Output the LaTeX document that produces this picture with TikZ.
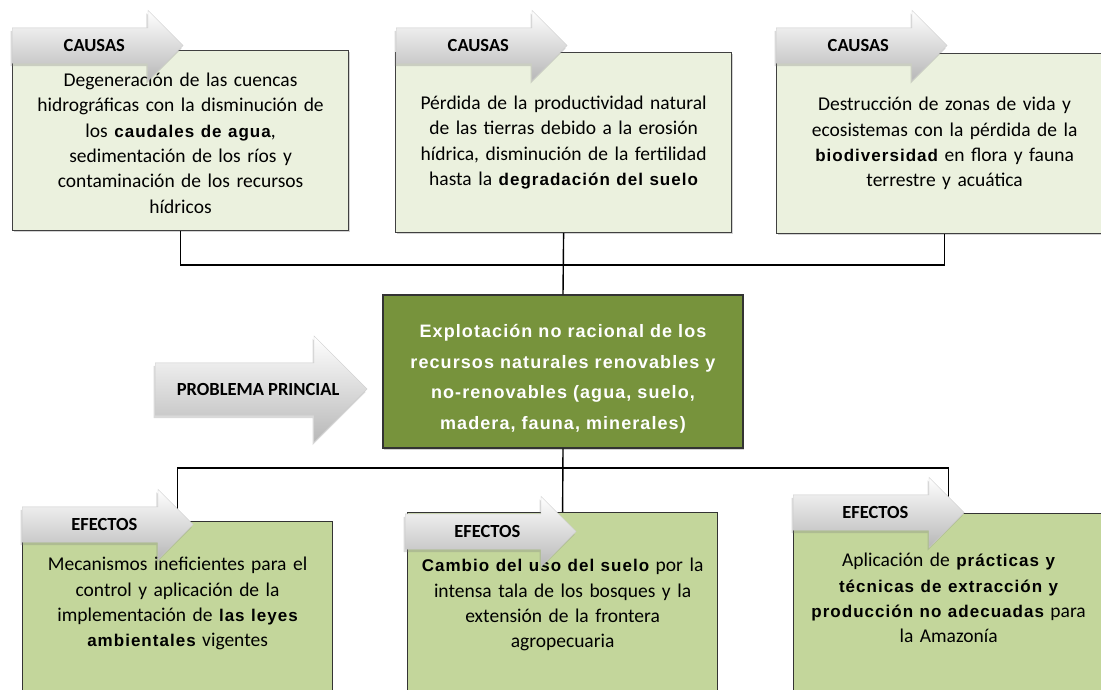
\documentclass[tikz,border=0pt]{standalone}
\usepackage{fontspec}
\setmainfont{Carlito}
\newfontfamily\arialsp[LetterSpace=6]{Liberation Sans}
\usetikzlibrary{shapes.arrows}
\usetikzlibrary{shadows}
\usetikzlibrary{positioning}
\usepackage{xcolor}

\definecolor{causafill}{HTML}{EBF1DE}
\definecolor{efectofill}{HTML}{C3D69B}
\definecolor{problemafill}{HTML}{77933C}

\newcommand{\resalta}[1]{{\fontsize{17}{25}\arialsp\bfseries #1}}

\begin{document}
\begin{tikzpicture}[x=1pt,y=-1pt,
  causa/.style={rectangle,draw=black!75,line width=1.2pt,fill=causafill,anchor=north west,
    minimum width=336pt,minimum height=180pt,inner sep=0pt,text width=334pt,align=center,
    font=\fontsize{19.5}{25.4}\selectfont,
    drop shadow={shadow xshift=1pt,shadow yshift=-1.5pt,opacity=.35}},
  efecto/.style={rectangle,draw=black!80,line width=1.2pt,fill=efectofill,anchor=north west,
    minimum width=310pt,minimum height=220pt},
  efectotxt/.style={inner sep=0pt,text width=308pt,align=center,font=\fontsize{19.5}{25.3}\selectfont},
  problema/.style={rectangle,draw=black!80,line width=1.2pt,fill=problemafill,text=white,
    minimum width=360pt,minimum height=153pt,inner sep=0pt,text width=355pt,align=center,
    font=\fontsize{18}{30.5}\arialsp\bfseries,
    drop shadow={shadow xshift=1pt,shadow yshift=-1.5pt,opacity=.35}},
  flecha/.style={single arrow,single arrow head extend=17.5pt,minimum height=171pt,
    anchor=tail,inner xsep=0pt,inner ysep=0pt,text height=23.5pt,text depth=11.5pt,
    draw=black!20,line width=.4pt,top color=white,bottom color=black!28,
    font=\fontsize{18.5}{20}\selectfont\bfseries,
    drop shadow={shadow xshift=-1.5pt,shadow yshift=-3pt,opacity=.3}},
  conector/.style={draw=black,line width=1.4pt}]
\useasboundingbox (0,0) rectangle (1101,689);
\clip (0,0) rectangle (1101,689);

% causas
\node [causa] (c1) at (12,50) {\rule{0pt}{18.5pt}Degeneración de las cuencas\\ hidrográficas con la disminución de\\ los \resalta{caudales de agua},\\ sedimentación de los ríos y\\ contaminación de los recursos\\ hídricos};
\node [causa] (c2) at (395,52) {Pérdida de la productividad natural\\ de las tierras debido a la erosión\\ hídrica, disminución de la fertilidad\\ hasta la \resalta{degradación del suelo}};
\node [causa] (c3) at (776,53) {Destrucción de zonas de vida y\\ ecosistemas con la pérdida de la\\ \resalta{biodiversidad} en flora y fauna\\ terrestre y acuática};

% problema principal
\node [problema] (main) at (563,371.5) {\rule{0pt}{28pt}Explotación no racional de los\\ recursos naturales renovables y\\ no-renovables (agua, suelo,\\ madera, fauna, minerales)};

% efectos
\node [efecto] (e1) at (22,521) {};
\node [efecto] (e2) at (407,512) {};
\node [efecto] (e3) at (793,513) {};
\node [efectotxt,below=36pt,at=(e1.north)] (t1) {Mecanismos ineficientes para el\\ control y aplicación de la\\ implementación de \resalta{las leyes}\\ \resalta{ambientales} vigentes};
\node [efectotxt,below=46pt,at=(e2.north)] (t2) {\resalta{Cambio del uso del suelo} por la\\ intensa tala de los bosques y la\\ extensión de la frontera\\ agropecuaria};
\node [efectotxt,below=40pt,at=(e3.north)] (t3) {Aplicación de \resalta{prácticas y}\\ \resalta{técnicas de extracción y}\\ \resalta{producción no adecuadas} para\\ la Amazonía};

% conectores
\coordinate (tj) at (563,265);
\coordinate (bj) at (563,468);
\draw [conector] (c1.south) |- (tj) -| (c3.south);
\draw [conector] (c2.south) -- (main.north);
\draw [conector] (e1.north) |- (bj) -| (e3.north);
\draw [conector] (main.south) -- (e2.north);

% flechas
\node [flecha] (fc1) at (12,45.5) {\hspace*{11pt}CAUSAS};
\node [flecha] (fc2) at (396,45.5) {\hspace*{11pt}CAUSAS};
\node [flecha] (fc3) at (776,45.5) {\hspace*{11pt}CAUSAS};
\node [flecha,minimum height=212pt,single arrow head extend=27pt,text height=32pt,text depth=20pt] (fp) at (155,389) {\hspace*{20pt}PROBLEMA PRINCIAL};
\node [flecha] (fe1) at (22,524.5) {\hspace*{11pt}EFECTOS};
\node [flecha] (fe2) at (405,531.5) {\hspace*{11pt}EFECTOS};
\node [flecha] (fe3) at (793,512.5) {\hspace*{11pt}EFECTOS};
\end{tikzpicture}
\end{document}
